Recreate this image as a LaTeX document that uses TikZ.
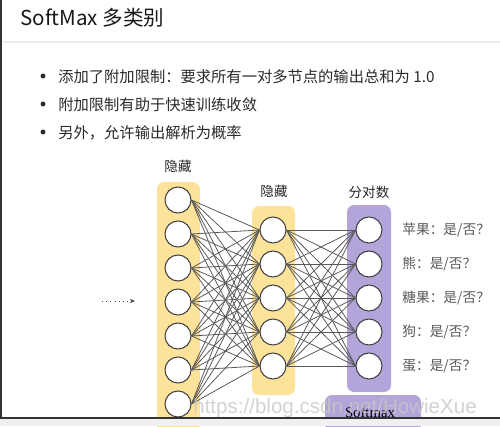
\documentclass[tikz,border=0pt]{standalone}
\usepackage{fontspec}
\setmainfont{Noto Sans CJK SC}
\newfontfamily\markfont{Liberation Sans}
\newfontfamily\smaxfont{Liberation Serif}
\usetikzlibrary{arrows.meta,backgrounds}

\definecolor{layeryellow}{HTML}{FDE29A}
\definecolor{layerpurple}{HTML}{B3A4DA}
\definecolor{bodytext}{HTML}{2A2A2A}

\begin{document}
\begin{tikzpicture}[x=0.02cm, y=-0.02cm,
  neuron/.style={circle, draw=black!75, line width=0.6pt, fill=white, minimum size=0.52cm, inner sep=0pt},
  link/.style={black!65, line width=0.45pt},
  tag/.style={font=\fontsize{7.7}{9}\selectfont, text=black!85},
  answer/.style={anchor=west, font=\fontsize{7.8}{9}\selectfont, text=black!65, inner sep=0pt}]
\useasboundingbox (0,0) rectangle (500,426);

% Header
\draw[black!8, line width=1pt] (3,42) -- (500,42);
\node[anchor=base west, inner sep=0pt, font=\fontsize{11.7}{14}\selectfont, text=black!90] (title) at (20,26) {SoftMax 多类别};

% Bullets
\foreach \y/\txt [count=\k] in {82/{添加了附加限制：要求所有一对多节点的输出总和为 1.0},
                                 110/{附加限制有助于快速训练收敛},
                                 138/{另外，允许输出解析为概率}} {
  \fill[bodytext] (43,\y-6) circle (1.4pt);
  \node[anchor=base west, inner sep=0pt, font=\fontsize{8.7}{10}\selectfont, text=bodytext] (pt\k) at (58,\y) {\txt};
}

% Neurons
\foreach \i in {1,...,7} \node[neuron] (a\i) at (178,166+34*\i) {};
\foreach \i in {1,...,5} \node[neuron] (b\i) at (273,196+34*\i) {};
\foreach \i in {1,...,5} \node[neuron] (c\i) at (369,196+34*\i) {};

% Layer boxes and links
\begin{scope}[on background layer]
\fill[layeryellow, rounded corners=4pt] (157,182) rectangle (200,432);
\fill[layeryellow, rounded corners=4pt] (252,206) rectangle (295,395);
\fill[layerpurple, rounded corners=4pt] (347,205) rectangle (391,392);
\fill[layerpurple, rounded corners=4pt] (325,395) rectangle (421,432);
\foreach \i in {1,...,7}
  \foreach \j in {1,...,5}
    \draw[link] (a\i.east) -- (b\j.west);
\foreach \i in {1,...,5}
  \foreach \j in {1,...,5}
    \draw[link] (b\i.east) -- (c\j.west);
\end{scope}

% Labels
\node[tag] (lblA) at (178,166) {隐藏};
\node[tag] (lblB) at (274,191) {隐藏};
\node[tag] (lblC) at (369,192) {分对数};
\foreach \name [count=\i] in {苹果,熊,糖果,狗,蛋}
  \node[answer] (ans\i) at (402,196+34*\i) {\name：是/否？};
\node[anchor=base, inner sep=0pt, font=\smaxfont\fontsize{8.4}{10}\selectfont] (smax) at (370,417) {Softmax};

% Input
\coordinate (src) at (102,301);
\coordinate (tip) at (135,301);
\draw[dotted, black!70, -{Stealth[length=3pt,width=2.5pt]}] (src) -- (tip);

% Watermark
\node[anchor=base west, inner sep=0pt, font=\markfont\fontsize{11.7}{14}\selectfont, text=black!22, opacity=0.8] (mark) at (193,413) {https://blog.csdn.net/HowieXue};

% Frame
\fill[black!6] (0,419) rectangle (500,426);
\draw[black!80, line width=1.2pt] (0,418) -- (500,418);
\draw[black!80, line width=1.2pt] (1,0) -- (1,418);
\end{tikzpicture}
\end{document}
